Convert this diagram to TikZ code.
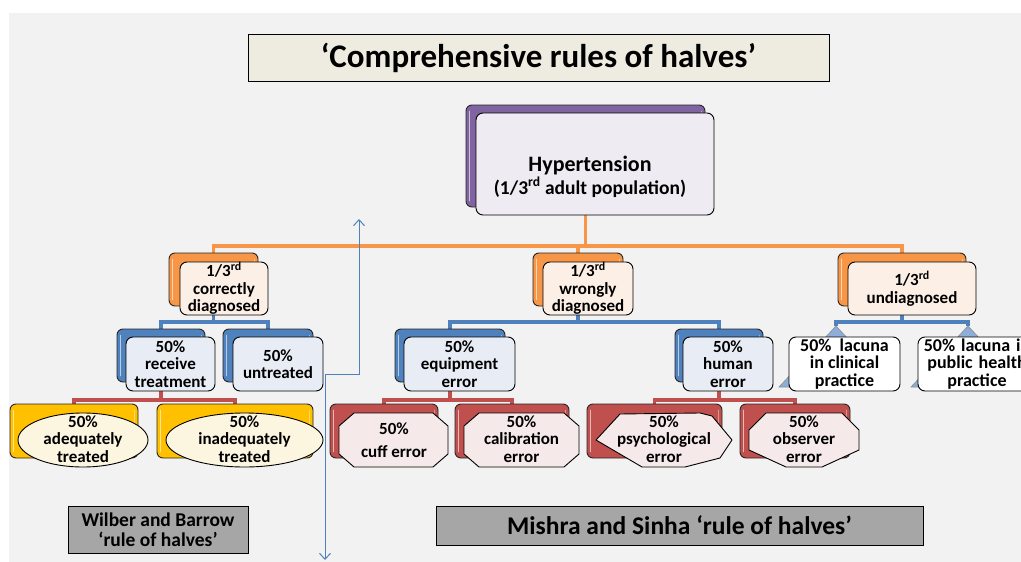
\documentclass[tikz,border=0pt]{standalone}
\usepackage{fontspec}
\setmainfont{Carlito}
\usetikzlibrary{shapes.geometric,arrows.meta}
\definecolor{bggray}{HTML}{F2F2F2}
\definecolor{titlefill}{HTML}{EEECE1}
\definecolor{cOrange}{HTML}{F79646}
\definecolor{cBlue}{HTML}{4F81BD}
\definecolor{cRed}{HTML}{C0504D}
\definecolor{cYellow}{HTML}{FFC000}
\definecolor{cPurple}{HTML}{8064A2}
\definecolor{tOrange}{HTML}{FCEFE6}
\definecolor{tBlue}{HTML}{E8EDF5}
\definecolor{tRed}{HTML}{F6E9E9}
\definecolor{tPurple}{HTML}{EEEBF2}
\definecolor{tYellow}{HTML}{FCF5E0}
\definecolor{labgray}{HTML}{A6A6A6}
\definecolor{triBlue}{HTML}{8EAEDA}
\pgfdeclarelayer{bg}
\pgfdeclarelayer{conn}
\pgfsetlayers{bg,conn,main}
\newcommand\cardfont{\fontsize{17}{17.5}\selectfont\bfseries}
\newcommand\glossy[1]{%
  \draw[white,opacity=.6,line width=1.8pt,line cap=round] ([shift={(4,7)}]#1.north west) -- ([shift={(4,-7)}]#1.south west);
  \draw[white,opacity=.4,line width=1.8pt,line cap=round] ([shift={(-4,7)}]#1.north east) -- ([shift={(-4,-7)}]#1.south east);}
% octagon: cx, cy, half width, half height
\newcommand\octo[4]{%
  \draw[shapebox=tRed, line join=round] ({#1-#3+15},{#2-#4}) -- ({#1+#3-15},{#2-#4}) -- ({#1+#3},{#2-#4+13}) -- ({#1+#3},{#2+#4-13}) -- ({#1+#3-15},{#2+#4}) -- ({#1-#3+15},{#2+#4}) -- ({#1-#3},{#2+#4-13}) -- ({#1-#3},{#2-#4+13}) -- cycle;}
\tikzset{
  backbox/.style={draw=black!85, line width=0.9pt, rounded corners=6pt, fill=#1, inner sep=0pt},
  frontbox/.style={draw=black, line width=0.9pt, rounded corners=7pt, fill=#1, align=center, inner sep=0pt, font=\cardfont},
  shapebox/.style={draw=black, line width=0.9pt, fill=#1, inner sep=0pt},
  txt/.style={align=center, inner sep=0pt, font=\cardfont},
  oline/.style={cOrange, line width=3.2pt},
  bline/.style={cBlue, line width=3.2pt},
  rline/.style={cRed, line width=3.2pt},
  labelbox/.style={draw=black, line width=1pt, fill=labgray, align=center, inner sep=0pt, font=\bfseries},
}
\begin{document}
\begin{tikzpicture}[x=1pt,y=-1pt]
\useasboundingbox (0,0) rectangle (1021,562);
\begin{pgfonlayer}{bg}
  \fill[white] (0,0) rectangle (1021,562);
  \fill[bggray] (9,13) rectangle (1021,562);
\end{pgfonlayer}

% title
\node[draw=black, line width=1pt, fill=titlefill, minimum width=581pt, minimum height=47pt, inner sep=0pt,
      font=\fontsize{33}{36}\selectfont\bfseries] (title) at (538.5,57.5) {‘Comprehensive rules of halves’};

% root
\node[backbox=cPurple, minimum width=239pt, minimum height=102pt] (hypb) at (585.5,156) {};
\glossy{hypb}
\node[frontbox=tPurple, minimum width=238pt, minimum height=102pt] (hyp) at (595,164) {};
\node[txt] (hyptext) at (590,177) {{\fontsize{22}{24}\selectfont Hypertension}\\[1pt]{\fontsize{19.5}{21}\selectfont (1/3\textsuperscript{rd} adult population)}};

% level 1
\node[backbox=cOrange, minimum width=89pt, minimum height=53pt] (c1b) at (213.5,279.5) {};
\glossy{c1b}
\node[frontbox=tOrange, minimum width=88pt, minimum height=53pt] (c1) at (224,288.5) {1/3\textsuperscript{rd}\\correctly\\diagnosed};
\node[backbox=cOrange, minimum width=90pt, minimum height=53pt] (c2b) at (578,279.5) {};
\glossy{c2b}
\node[frontbox=tOrange, minimum width=90pt, minimum height=53pt] (c2) at (588,288.5) {1/3\textsuperscript{rd}\\wrongly\\diagnosed};
\node[backbox=cOrange, minimum width=128pt, minimum height=53pt] (c3b) at (902,279.5) {};
\glossy{c3b}
\node[frontbox=tOrange, minimum width=128pt, minimum height=53pt] (c3) at (912,288.5) {1/3\textsuperscript{rd}\\undiagnosed};

% level 2
\node[backbox=cBlue, minimum width=88pt, minimum height=53pt] (recb) at (161,355.5) {};
\glossy{recb}
\node[frontbox=tBlue, minimum width=89pt, minimum height=54pt] (rec) at (170.5,364) {50\%\\receive\\treatment};
\node[backbox=cBlue, minimum width=90pt, minimum height=53pt] (untb) at (268,355.5) {};
\glossy{untb}
\node[frontbox=tBlue, minimum width=90pt, minimum height=54pt] (unt) at (278,364) {50\%\\untreated};
\node[backbox=cBlue, minimum width=110pt, minimum height=53pt] (equb) at (450,355.5) {};
\glossy{equb}
\node[frontbox=tBlue, minimum width=111pt, minimum height=54pt] (equ) at (459.5,364) {50\%\\equipment\\error};
\node[backbox=cBlue, minimum width=88pt, minimum height=53pt] (humb) at (719,355.5) {};
\glossy{humb}
\node[frontbox=tBlue, minimum width=90pt, minimum height=54pt] (hum) at (728,364) {50\%\\human\\error};

% lacuna callouts
\coordinate (l1apex) at (836,326);
\coordinate (l2apex) at (968,326);
\fill[triBlue, draw=black!45, line width=0.6pt] (l1apex) -- (779,387) -- (893,387) -- cycle;
\fill[triBlue, draw=black!45, line width=0.6pt] (l2apex) -- (911,387) -- (1025,387) -- cycle;
\node[frontbox=white, minimum width=111pt, minimum height=54pt, font=\fontsize{18}{17.5}\selectfont\bfseries] (lac1) at (844.5,364) {50\%~ lacuna\\in clinical\\practice};
\node[frontbox=white, minimum width=118pt, minimum height=54pt, text width=118pt, font=\fontsize{18}{17.5}\selectfont\bfseries] (lac2) at (977,364) {50\% lacuna in\\public health\\practice};

% level 3
\node[backbox=cYellow, minimum width=128pt, minimum height=54pt] (y1b) at (74,431) {};
\glossy{y1b}
\node[shapebox=tYellow, ellipse, minimum width=130pt, minimum height=54pt] (y1) at (83,440) {};
\node[txt] (y1t) at (83,439) {50\%\\adequately\\treated};
\node[backbox=cYellow, minimum width=156pt, minimum height=54pt] (y2b) at (235,431) {};
\glossy{y2b}
\node[shapebox=tYellow, ellipse, minimum width=157pt, minimum height=54pt] (y2) at (244.5,440) {};
\node[txt] (y2t) at (244.5,439) {50\%\\inadequately\\treated};

\node[backbox=cRed, minimum width=108pt, minimum height=54pt] (cufb) at (384,431) {};
\glossy{cufb}
\octo{393.5}{440}{54.5}{27}
\node[txt] (cuft) at (394,440) {50\%\\[6pt]cuff error};
\node[backbox=cRed, minimum width=114pt, minimum height=54pt] (calb) at (512,431) {};
\glossy{calb}
\octo{521.5}{440}{57.5}{27}
\node[txt] (calt) at (521.5,439) {50\%\\calibration\\error};

\node[backbox=cRed, minimum width=135pt, minimum height=54pt] (psyb) at (654.5,431) {};
\glossy{psyb}
\draw[shapebox=tRed, line join=round] (596,440) -- (620,414) -- (700,413) -- (712,416) -- (732,440) -- (720,458) -- (685,467) -- (642,467) -- cycle;
\node[txt] (psyt) at (664,439) {50\%\\psychological\\error};
\node[backbox=cRed, minimum width=110pt, minimum height=54pt] (obsb) at (795,431) {};
\glossy{obsb}
\draw[shapebox=tRed, line join=round] (749,430) -- (766,413) -- (842,413) -- (859,430) -- (859,450) -- (822,467) -- (786,467) -- (749,450) -- cycle;
\node[txt] (obst) at (804,439) {50\%\\observer\\error};

% connectors
\begin{pgfonlayer}{conn}
  \coordinate (jo) at (585.5,246);
  \draw[oline] (hypb.center) -- (jo);
  \draw[oline] (c1b.center) |- (jo) -| (c3b.center);
  \draw[oline] (jo) -| (c2b.center);
  \coordinate (jb1) at (213.5,322);
  \draw[bline] (c1b.center) -- (jb1);
  \draw[bline] (recb.center) |- (jb1) -| (untb.center);
  \coordinate (jb2) at (578,322);
  \draw[bline] (c2b.center) -- (jb2);
  \draw[bline] (equb.center) |- (jb2) -| (humb.center);
  \coordinate (jb3) at (902,322);
  \draw[bline] (c3b.center) -- (jb3);
  \draw[bline] (l1apex) |- (jb3) -| (l2apex);
  \coordinate (jr1) at (161,400);
  \draw[rline] (recb.center) -- (jr1);
  \draw[rline] (y1b.center) |- (jr1) -| (y2b.center);
  \coordinate (jr2) at (450,400);
  \draw[rline] (equb.center) -- (jr2);
  \draw[rline] (cufb.center) |- (jr2) -| (calb.center);
  \coordinate (jr3) at (719,400);
  \draw[rline] (humb.center) -- (jr3);
  \draw[rline] (psyb.center) |- (jr3) -| (obsb.center);
\end{pgfonlayer}

% divider arrow
\coordinate (aTop) at (359,219);
\coordinate (aK1) at (359,374);
\coordinate (aK2) at (325,374);
\coordinate (aBot) at (325,560);
\draw[cBlue, line width=1pt, {Straight Barb[length=6pt,width=11pt]}-{Straight Barb[length=6pt,width=11pt]}] (aTop) -- (aK1) -- (aK2) -- (aBot);

% bottom labels
\node[labelbox, minimum width=180pt, minimum height=47pt, font=\fontsize{19.5}{20}\selectfont\bfseries] (wb) at (158,529.5) {Wilber and Barrow\\‘rule of halves’};
\node[labelbox, minimum width=487pt, minimum height=39pt, font=\fontsize{25.5}{27}\selectfont\bfseries] (ms) at (679.5,525.5) {Mishra and Sinha ‘rule of halves’};
\end{tikzpicture}
\end{document}
